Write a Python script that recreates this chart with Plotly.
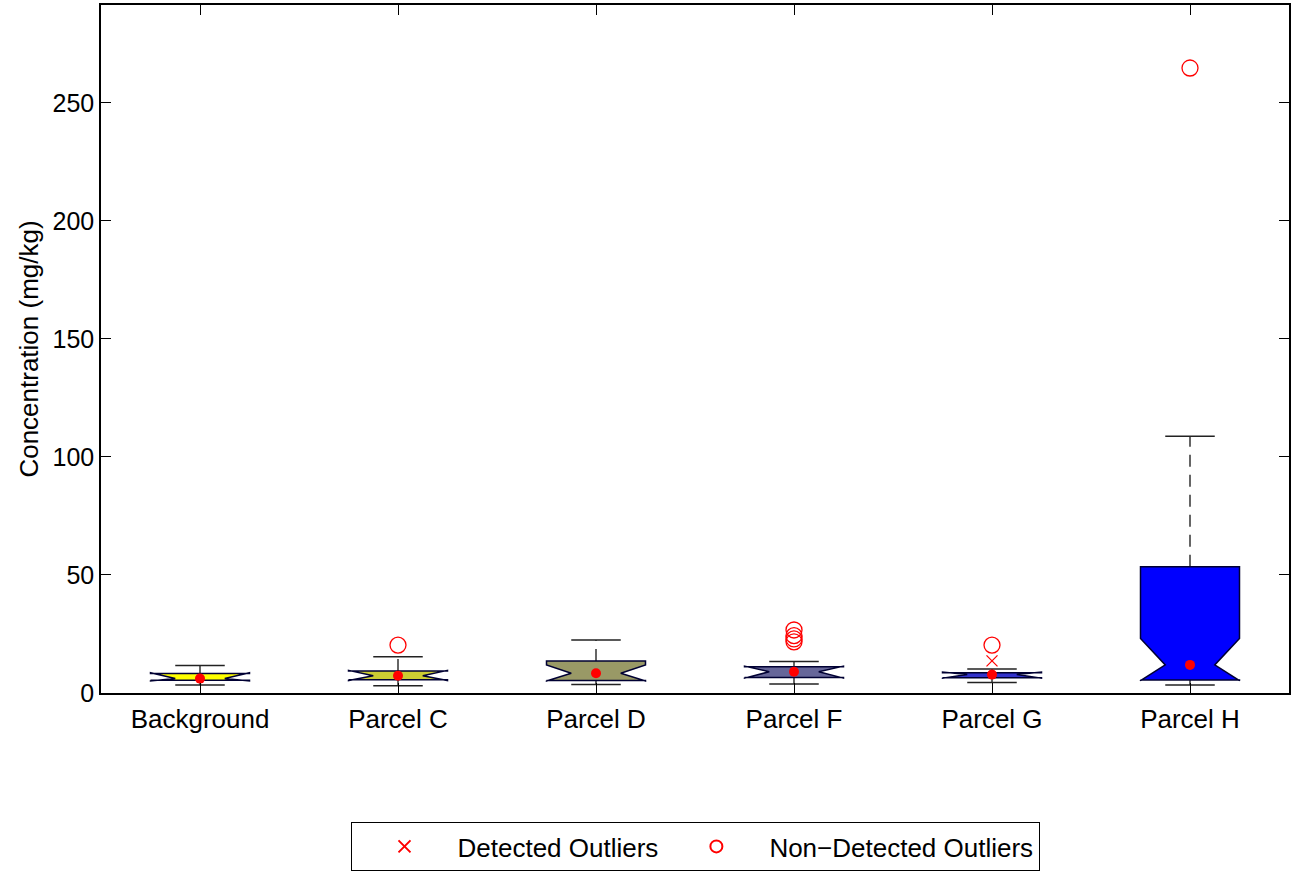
import plotly.graph_objects as go

categories = ["Background", "Parcel C", "Parcel D", "Parcel F", "Parcel G", "Parcel H"]
box_colors = ["#ffff00", "#cccc33", "#999966", "#666699", "#3333cc", "#0000ff"]
q1 = [5.4, 5.6, 5.3, 6.6, 6.5, 5.5]
q3 = [8.3, 9.3, 13.6, 11.1, 8.6, 53.5]
median = [6.1, 7.3, 8.4, 9.0, 7.8, 11.9]
notch_lo = [5.1, 5.3, 5.1, 6.3, 6.3, 5.2]
notch_hi = [8.6, 9.6, 11.9, 11.4, 8.9, 23.1]
whisker_lo = [3.4, 3.1, 3.6, 3.8, 4.5, 3.4]
whisker_hi = [11.6, 15.4, 22.5, 13.3, 10.2, 108.8]
detected_outliers = {"Parcel G": [13.6]}
nondetected_outliers = {
    "Parcel C": [20.3],
    "Parcel F": [26.7, 24.3, 22.9, 21.7],
    "Parcel G": [20.3],
    "Parcel H": [264.8],
}

BW = 0.25   # half box width
NW = 0.125  # half notch waist width
CW = 0.125  # half cap width

fig = go.Figure()
pos = {c: i + 1 for i, c in enumerate(categories)}

for i, c in enumerate(categories):
    x0 = pos[c]
    fig.add_trace(go.Scatter(x=[x0, x0], y=[q3[i], whisker_hi[i]], mode="lines",
                             line=dict(color="#333333", width=1.5, dash="12px,8px"),
                             showlegend=False, hoverinfo="skip"))
    fig.add_trace(go.Scatter(x=[x0, x0], y=[whisker_lo[i], q1[i]], mode="lines",
                             line=dict(color="#333333", width=1.5, dash="12px,8px"),
                             showlegend=False, hoverinfo="skip"))
    for w in (whisker_hi[i], whisker_lo[i]):
        fig.add_trace(go.Scatter(x=[x0 - CW, x0 + CW], y=[w, w], mode="lines",
                                 line=dict(color="#222222", width=1.5),
                                 showlegend=False, hoverinfo="skip"))
    xs = [x0 - BW, x0 - BW, x0 - NW, x0 - BW, x0 - BW,
          x0 + BW, x0 + BW, x0 + NW, x0 + BW, x0 + BW, x0 - BW]
    ys = [q1[i], notch_lo[i], median[i], notch_hi[i], q3[i],
          q3[i], notch_hi[i], median[i], notch_lo[i], q1[i], q1[i]]
    fig.add_trace(go.Scatter(x=xs, y=ys, mode="lines", fill="toself",
                             fillcolor=box_colors[i],
                             line=dict(color="#000033", width=1.5),
                             showlegend=False, hoverinfo="skip"))
    fig.add_trace(go.Scatter(x=[x0], y=[median[i]], mode="markers",
                             marker=dict(color="#ff0000", size=10, symbol="circle"),
                             showlegend=False, hoverinfo="skip"))

dx, dy = [], []
for c, vals in detected_outliers.items():
    dx += [pos[c]] * len(vals)
    dy += vals
nx, ny = [], []
for c, vals in nondetected_outliers.items():
    nx += [pos[c]] * len(vals)
    ny += vals

fig.add_trace(go.Scatter(x=dx, y=dy, mode="markers", name="Detected Outliers",
                         marker=dict(symbol="x-thin-open", size=11,
                                     line=dict(color="#ff0000", width=1.3),
                                     color="#ff0000")))
fig.add_trace(go.Scatter(x=nx, y=ny, mode="markers", name="Non\u2212Detected Outliers",
                         marker=dict(symbol="circle-open", size=16,
                                     line=dict(color="#ff0000", width=1.3),
                                     color="#ff0000")))

axis_common = dict(showline=True, linecolor="black", linewidth=1.5, mirror="allticks",
                   ticks="inside", ticklen=10, tickcolor="black", tickwidth=1,
                   showgrid=False, zeroline=False, automargin=False)

fig.update_layout(
    width=1293, height=871,
    paper_bgcolor="white", plot_bgcolor="white",
    margin=dict(l=101, r=4, t=5, b=178, autoexpand=False),
    font=dict(family="Liberation Sans, Arial, sans-serif", size=24, color="black"),
    xaxis=dict(range=[0.5, 6.5], tickvals=list(range(1, len(categories) + 1)),
               ticktext=categories, tickfont=dict(size=26), ticklabelstandoff=2,
               **axis_common),
    yaxis=dict(range=[0, 291.5], tickvals=[0, 50, 100, 150, 200, 250],
               tickfont=dict(size=25),
               title=dict(text="Concentration (mg/kg)", font=dict(size=26), standoff=6),
               **axis_common),
    legend=dict(orientation="h", x=0.5, xanchor="center", y=-0.1875, yanchor="top",
                bordercolor="black", borderwidth=1, bgcolor="white",
                font=dict(size=26), itemwidth=96, itemsizing="constant"),
    showlegend=True,
)

fig.write_html("out.html", config={"displayModeBar": False},
               post_script="document.body.style.margin='0';")
